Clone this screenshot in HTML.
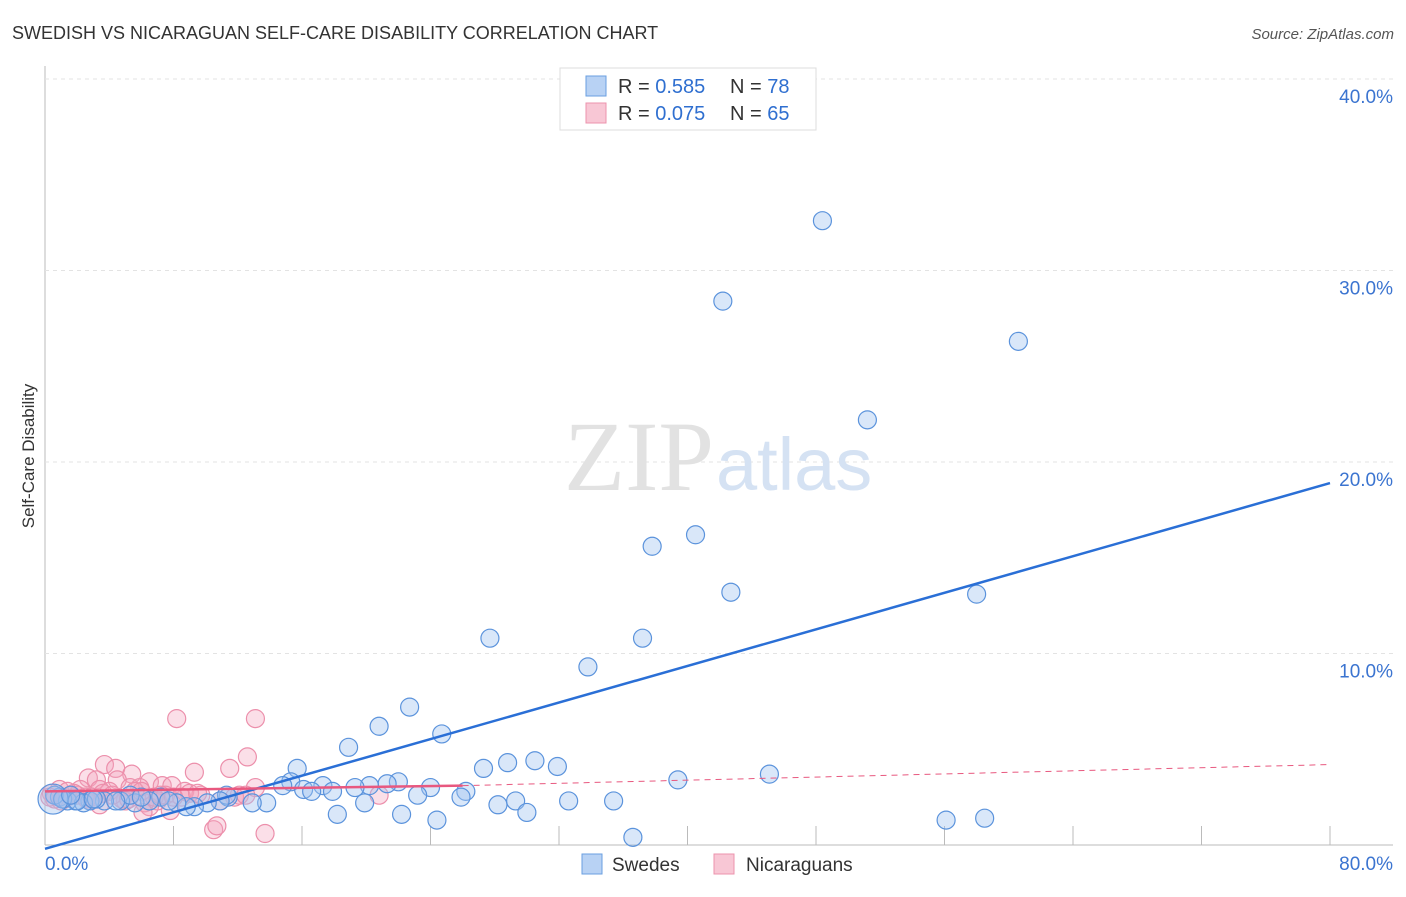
<!DOCTYPE html>
<html><head><meta charset="utf-8"><style>
body{margin:0;background:#fff;font-family:"Liberation Sans",sans-serif}
svg text{font-family:"Liberation Sans",sans-serif}
</style></head><body>
<svg id="chart" width="1406" height="892">
<text x="12" y="39" font-size="18" fill="#333">SWEDISH VS NICARAGUAN SELF-CARE DISABILITY CORRELATION CHART</text>
<text x="1394" y="39" font-size="15" fill="#555" font-style="italic" text-anchor="end">Source: ZipAtlas.com</text>
<text x="34" y="456" font-size="17" fill="#333" transform="rotate(-90 34 456)" text-anchor="middle">Self-Care Disability</text>
<g id="grid"></g>
<text x="714" y="490" font-size="100" fill="#e2e2e2" text-anchor="end" style="font-family:'Liberation Serif',serif">ZIP</text>
<text x="716" y="490" font-size="74" fill="#d5e2f3">atlas</text>
<g id="pts"></g>
<g id="lines"></g>
<g>
<rect x="560" y="68" width="256" height="62" fill="#fff" stroke="#ddd"/>
<rect x="586" y="76" width="20" height="20" fill="#b8d2f4" stroke="#6a9fe0"/>
<rect x="586" y="103" width="20" height="20" fill="#f8c7d5" stroke="#ec93ad"/>
<text x="618" y="93" font-size="20" fill="#333">R = <tspan fill="#2f6fd0">0.585</tspan></text>
<text x="730" y="93" font-size="20" fill="#333">N = <tspan fill="#2f6fd0">78</tspan></text>
<text x="618" y="120" font-size="20" fill="#333">R = <tspan fill="#2f6fd0">0.075</tspan></text>
<text x="730" y="120" font-size="20" fill="#333">N = <tspan fill="#2f6fd0">65</tspan></text>
</g>
<g>
<rect x="582" y="854" width="20" height="20" fill="#b8d2f4" stroke="#6a9fe0"/>
<text x="612" y="871" font-size="19" fill="#333">Swedes</text>
<rect x="714" y="854" width="20" height="20" fill="#f8c7d5" stroke="#ec93ad"/>
<text x="746" y="871" font-size="19" fill="#333">Nicaraguans</text>
</g>
</svg>
<script>
const yTicks=[10,20,30,40];
const xTickVals=[0,8,16,24,32,40,48,56,64,72,80];
const xLabels=["0.0%","80.0%"];
const swedesX=[48.4,42.2,60.6,51.2,40.5,37.8,42.7,58.0,27.7,37.2,33.8,22.7,20.8,24.7,18.9,30.5,28.8,31.9,27.3,45.1,39.4,15.7,15.3,22.0,21.3,20.2,19.3,17.3,14.8,24.0,26.2,16.1,16.6,17.9,23.2,25.9,29.3,32.6,35.4,28.2,19.9,13.8,12.9,11.4,11.3,10.9,10.1,9.3,8.8,8.2,7.2,6.5,5.6,4.7,3.7,2.8,1.9,0.9,18.2,22.2,24.4,30.0,56.1,58.5,36.6,5.3,4.4,1.4,2.4,3.2,6.0,7.7,0.6,1.1,2.0,3.0,0.5,1.6];
const swedesY=[32.6,28.4,26.3,22.2,16.2,15.6,13.2,13.1,10.8,10.8,9.3,7.2,6.2,5.8,5.1,4.4,4.3,4.1,4.0,3.7,3.4,4.0,3.3,3.3,3.2,3.1,3.0,3.1,3.1,3.0,2.8,2.9,2.8,2.8,2.6,2.5,2.3,2.3,2.3,2.1,2.2,2.2,2.2,2.5,2.6,2.3,2.2,2.0,2.0,2.2,2.5,2.3,2.2,2.3,2.3,2.3,2.3,2.5,1.6,1.6,1.3,1.7,1.3,1.4,0.4,2.6,2.3,2.3,2.2,2.4,2.5,2.3,2.6,2.4,2.3,2.4,2.4,2.6];
const nicX=[8.2,13.1,12.6,3.7,4.4,11.5,5.4,9.3,2.7,3.2,4.5,6.5,7.3,7.9,13.1,5.3,5.9,8.7,3.4,4.0,2.2,0.9,20.8,12.1,10.9,7.0,6.2,5.0,3.4,6.5,7.8,6.1,10.5,10.7,13.7,0.9,1.6,2.5,9.7,7.5,0.4,1.2,2.0,2.9,3.6,4.8,5.6,6.8,8.5,9.0,11.8,12.5,1.0,1.8,3.0,4.2,5.2,6.0,7.2,8.0,9.5,0.6,1.4,2.6,0.3];
const nicY=[6.6,6.6,4.6,4.2,4.0,4.0,3.7,3.8,3.5,3.4,3.4,3.3,3.1,3.1,3.0,3.0,3.0,2.8,2.9,2.8,2.9,2.9,2.6,2.6,2.3,2.3,2.2,2.3,2.1,2.0,1.8,1.7,0.8,1.0,0.6,2.5,2.6,2.5,2.6,2.6,2.7,2.4,2.6,2.5,2.7,2.4,2.8,2.5,2.5,2.7,2.5,2.6,2.3,2.7,2.4,2.6,2.4,2.8,2.6,2.5,2.7,2.4,2.8,2.4,2.5];
const blueTrendX=[0,80], blueTrendY=[-0.2,18.9];
const pinkTrendX=[0,26,80], pinkTrendY=[2.8,3.1,4.2];
const sx=v=>45+v*(1330-45)/80, sy=v=>845-v*19.15;
const NS="http://www.w3.org/2000/svg";
function mk(t,a,p){const e=document.createElementNS(NS,t);for(const k in a)e.setAttribute(k,a[k]);p.appendChild(e);return e;}
const grid=document.getElementById('grid');
mk('line',{x1:45,y1:66,x2:45,y2:845,stroke:'#bbb'},grid);
mk('line',{x1:45,y1:845,x2:1393,y2:845,stroke:'#bbb'},grid);
yTicks.forEach(v=>{
 const l=mk('line',{x1:45,x2:1393,y1:sy(v),y2:sy(v),stroke:'#e3e3e3','stroke-dasharray':'4,4'},grid);
 
 
 const t=mk('text',{x:1393,y:sy(v)+24,'font-size':19,fill:'#3b74d0','text-anchor':'end'},grid);
 t.textContent=v.toFixed(1)+'%';
 
 
});
xTickVals.slice(1).forEach(v=>{
 const l=mk('line',{x1:sx(v),x2:sx(v),y1:826,y2:845,stroke:'#bbb'},grid);
 
 
});
const t0=mk('text',{x:45,y:870,'font-size':19,fill:'#3b74d0'},grid);t0.textContent=xLabels[0];


const t1=mk('text',{x:1393,y:870,'font-size':19,fill:'#3b74d0','text-anchor':'end'},grid);t1.textContent=xLabels[1];


const pts=document.getElementById('pts');
nicX.forEach((x,i)=>{
 const c=mk('circle',{cx:sx(x),cy:sy(nicY[i]),r:9,fill:'rgba(244,164,188,0.35)',stroke:'#ec8fab','stroke-width':1.2},pts);
 
 
});
swedesX.forEach((x,i)=>{
 const c=mk('circle',{cx:sx(x),cy:sy(swedesY[i]),r:i===76?15:9,fill:'rgba(160,196,240,0.4)',stroke:'#5b93dc','stroke-width':1.2},pts);
 
 
});
const lines=document.getElementById('lines');
const bl=mk('line',{x1:sx(blueTrendX[0]),y1:sy(blueTrendY[0]),x2:sx(blueTrendX[1]),y2:sy(blueTrendY[1]),stroke:'#2a6fd6','stroke-width':2.5},lines);


const p1=mk('line',{x1:sx(pinkTrendX[0]),y1:sy(pinkTrendY[0]),x2:sx(pinkTrendX[1]),y2:sy(pinkTrendY[1]),stroke:'#e8587f','stroke-width':2.5},lines);


const p2=mk('line',{x1:sx(pinkTrendX[1]),y1:sy(pinkTrendY[1]),x2:sx(pinkTrendX[2]),y2:sy(pinkTrendY[2]),stroke:'#e8587f','stroke-width':1,'stroke-dasharray':'6,5'},lines);


</script>
</body></html>
